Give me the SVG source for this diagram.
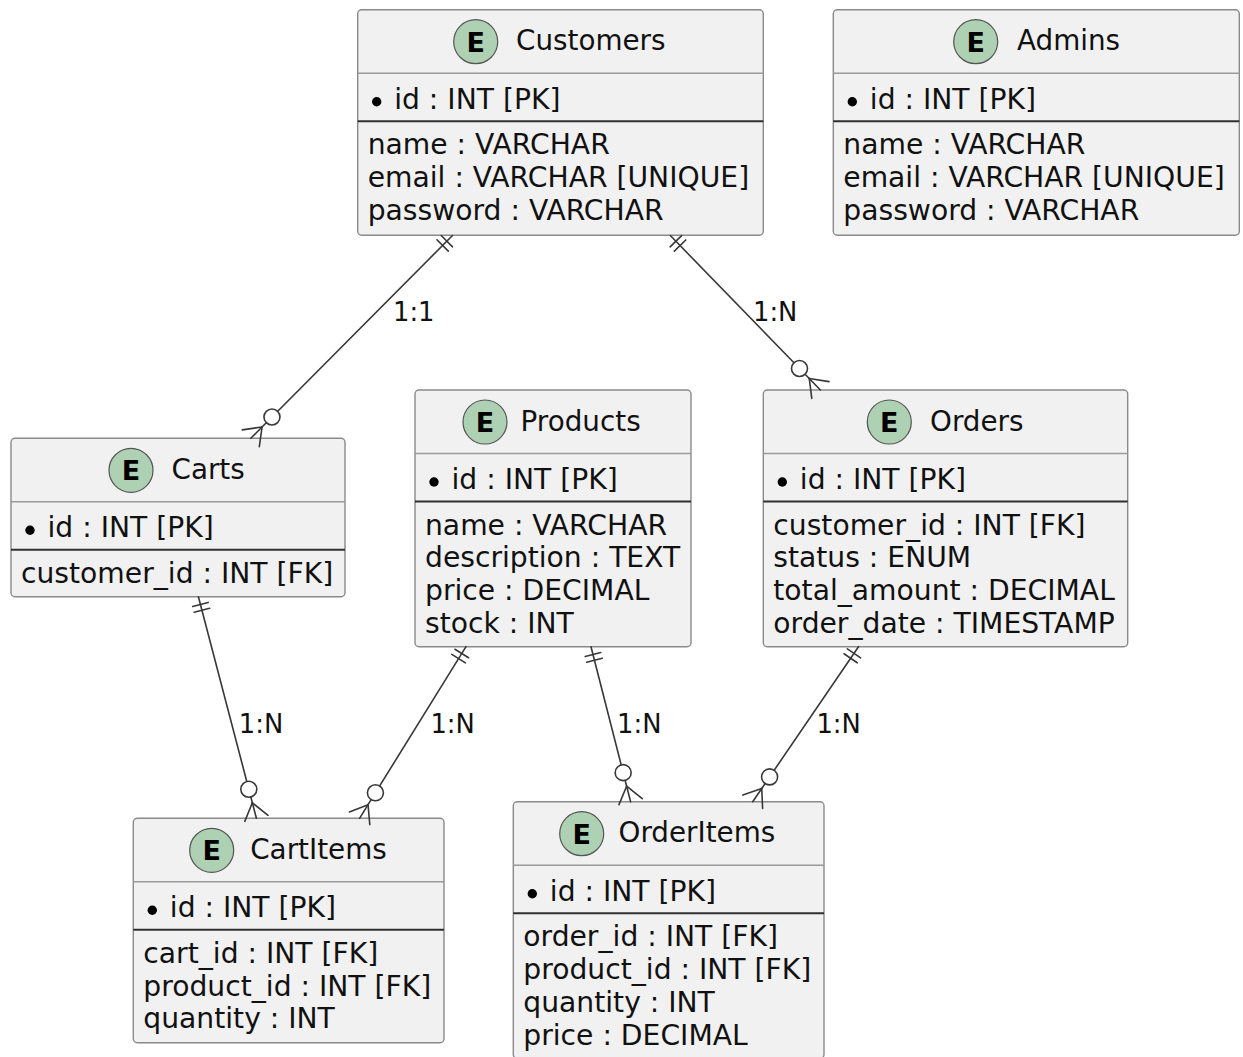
<svg xmlns="http://www.w3.org/2000/svg" width="1243" height="1057" viewBox="0 0 1243 1057">
  <style>
    .box { fill: #F1F1F1; stroke: #8a8a8a; stroke-width: 1.4; }
    .sep { stroke: #9a9a9a; stroke-width: 1.4; }
    .sep-strong { stroke: #303030; stroke-width: 2; }
    .badge { fill: #ADD1B2; stroke: #555; stroke-width: 1.2; }
    .badge-letter { font-family: "DejaVu Sans", sans-serif; font-weight: bold; font-size: 27px; text-anchor: middle; fill: #000; }
    .title { font-family: "DejaVu Sans", sans-serif; font-size: 27.8px; fill: #111; }
    .attr { font-family: "DejaVu Sans", sans-serif; font-size: 28.2px; fill: #111; }
    .pk-dot { fill: #000; }
    .link { stroke: #383838; stroke-width: 1.6; fill: none; stroke-linecap: round; }
    .opt { fill: #fff; stroke: #383838; stroke-width: 1.6; }
    .label { font-family: "DejaVu Sans", sans-serif; font-size: 25.8px; fill: #111; }
  </style>

  <rect width="1243" height="1057" fill="#ffffff"/>

  <!-- Entities -->
  <g id="customers">
    <rect class="box" x="357.7" y="9.7" width="405.6" height="225.6" rx="4"/>
    <circle class="badge" cx="475.7" cy="41.7" r="22"/>
    <text class="badge-letter" x="475.7" y="51.5">E</text>
    <text class="title" x="516" y="50.2">Customers</text>
    <line class="sep" x1="357.7" y1="73.2" x2="763.3" y2="73.2"/>
    <circle class="pk-dot" cx="376.7" cy="101.7" r="4.7"/>
    <text class="attr" x="394.2" y="108.5">id : INT [PK]</text>
    <line class="sep-strong" x1="357.7" y1="121.2" x2="763.3" y2="121.2"/>
    <text class="attr" x="367.7" y="154.2">name : VARCHAR</text>
    <text class="attr" x="367.7" y="187">email : VARCHAR [UNIQUE]</text>
    <text class="attr" x="367.7" y="219.8">password : VARCHAR</text>
  </g>

  <g id="admins">
    <rect class="box" x="833.3" y="9.7" width="406" height="225.6" rx="4"/>
    <circle class="badge" cx="975.7" cy="41.7" r="22"/>
    <text class="badge-letter" x="975.7" y="51.5">E</text>
    <text class="title" x="1017" y="50.2">Admins</text>
    <line class="sep" x1="833.3" y1="73.2" x2="1239.3" y2="73.2"/>
    <circle class="pk-dot" cx="852.3" cy="101.7" r="4.7"/>
    <text class="attr" x="869.8" y="108.5">id : INT [PK]</text>
    <line class="sep-strong" x1="833.3" y1="121.2" x2="1239.3" y2="121.2"/>
    <text class="attr" x="843.3" y="154.2">name : VARCHAR</text>
    <text class="attr" x="843.3" y="187">email : VARCHAR [UNIQUE]</text>
    <text class="attr" x="843.3" y="219.8">password : VARCHAR</text>
  </g>

  <g id="carts">
    <rect class="box" x="11" y="438.3" width="334" height="158.4" rx="4"/>
    <circle class="badge" cx="131" cy="470.3" r="22"/>
    <text class="badge-letter" x="131" y="480.1">E</text>
    <text class="title" x="171.5" y="478.8">Carts</text>
    <line class="sep" x1="11" y1="501.8" x2="345" y2="501.8"/>
    <circle class="pk-dot" cx="30" cy="530.3" r="4.7"/>
    <text class="attr" x="47.5" y="537.1">id : INT [PK]</text>
    <line class="sep-strong" x1="11" y1="549.8" x2="345" y2="549.8"/>
    <text class="attr" x="21" y="582.8">customer_id : INT [FK]</text>
  </g>

  <g id="products">
    <rect class="box" x="415" y="390" width="276" height="256.7" rx="4"/>
    <circle class="badge" cx="485" cy="422" r="22"/>
    <text class="badge-letter" x="485" y="431.8">E</text>
    <text class="title" x="520.6" y="430.5">Products</text>
    <line class="sep" x1="415" y1="453.5" x2="691" y2="453.5"/>
    <circle class="pk-dot" cx="434" cy="482" r="4.7"/>
    <text class="attr" x="451.5" y="488.8">id : INT [PK]</text>
    <line class="sep-strong" x1="415" y1="501.5" x2="691" y2="501.5"/>
    <text class="attr" x="425" y="534.5">name : VARCHAR</text>
    <text class="attr" x="425" y="567.3">description : TEXT</text>
    <text class="attr" x="425" y="600.1">price : DECIMAL</text>
    <text class="attr" x="425" y="632.9">stock : INT</text>
  </g>

  <g id="orders">
    <rect class="box" x="763.3" y="390" width="364.4" height="256.7" rx="4"/>
    <circle class="badge" cx="889.3" cy="422" r="22"/>
    <text class="badge-letter" x="889.3" y="431.8">E</text>
    <text class="title" x="930" y="430.5">Orders</text>
    <line class="sep" x1="763.3" y1="453.5" x2="1127.7" y2="453.5"/>
    <circle class="pk-dot" cx="782.3" cy="482" r="4.7"/>
    <text class="attr" x="799.8" y="488.8">id : INT [PK]</text>
    <line class="sep-strong" x1="763.3" y1="501.5" x2="1127.7" y2="501.5"/>
    <text class="attr" x="773.3" y="534.5">customer_id : INT [FK]</text>
    <text class="attr" x="773.3" y="567.3">status : ENUM</text>
    <text class="attr" x="773.3" y="600.1">total_amount : DECIMAL</text>
    <text class="attr" x="773.3" y="632.9">order_date : TIMESTAMP</text>
  </g>

  <g id="cartitems">
    <rect class="box" x="133.3" y="818.3" width="310.7" height="224.4" rx="4"/>
    <circle class="badge" cx="211.7" cy="850.3" r="22"/>
    <text class="badge-letter" x="211.7" y="860.1">E</text>
    <text class="title" x="250.2" y="858.8">CartItems</text>
    <line class="sep" x1="133.3" y1="881.8" x2="444" y2="881.8"/>
    <circle class="pk-dot" cx="152.3" cy="910.3" r="4.7"/>
    <text class="attr" x="169.8" y="917.1">id : INT [PK]</text>
    <line class="sep-strong" x1="133.3" y1="929.8" x2="444" y2="929.8"/>
    <text class="attr" x="143.3" y="962.8">cart_id : INT [FK]</text>
    <text class="attr" x="143.3" y="995.6">product_id : INT [FK]</text>
    <text class="attr" x="143.3" y="1028.4">quantity : INT</text>
  </g>

  <g id="orderitems">
    <rect class="box" x="513.3" y="801.7" width="310.7" height="256.7" rx="4"/>
    <circle class="badge" cx="581.7" cy="833.7" r="22"/>
    <text class="badge-letter" x="581.7" y="843.5">E</text>
    <text class="title" x="618.5" y="842.2">OrderItems</text>
    <line class="sep" x1="513.3" y1="865.2" x2="824" y2="865.2"/>
    <circle class="pk-dot" cx="532.3" cy="893.7" r="4.7"/>
    <text class="attr" x="549.8" y="900.5">id : INT [PK]</text>
    <line class="sep-strong" x1="513.3" y1="913.2" x2="824" y2="913.2"/>
    <text class="attr" x="523.3" y="946.2">order_id : INT [FK]</text>
    <text class="attr" x="523.3" y="979">product_id : INT [FK]</text>
    <text class="attr" x="523.3" y="1011.8">quantity : INT</text>
    <text class="attr" x="523.3" y="1044.6">price : DECIMAL</text>
  </g>

  <!-- Relationships: "||" at the one side, circle + crow's foot at the many side -->
  <g id="connectors">
    <!-- Customers -> Carts -->
    <g id="customers-carts">
      <line class="link" x1="452.5" y1="235.5" x2="262.08" y2="426.95"/>
      <line class="link" x1="441.19" y1="235.53" x2="452.53" y2="246.81"/>
      <line class="link" x1="436.96" y1="239.79" x2="448.3" y2="251.07"/>
      <line class="link" x1="262.08" y1="426.95" x2="250.8" y2="438.3"/>
      <line class="link" x1="262.08" y1="426.95" x2="242.29" y2="429.84"/>
      <line class="link" x1="262.08" y1="426.95" x2="259.31" y2="446.76"/>
      <circle class="opt" cx="271.96" cy="417.03" r="8"/>
      <text class="label" x="393" y="321">1:1</text>
    </g>
    <!-- Customers -> Orders -->
    <g id="customers-orders">
      <line class="link" x1="670.3" y1="235.5" x2="809.25" y2="378.52"/>
      <line class="link" x1="670.13" y1="246.81" x2="681.61" y2="235.67"/>
      <line class="link" x1="674.31" y1="251.11" x2="685.79" y2="239.97"/>
      <line class="link" x1="809.25" y1="378.52" x2="820.4" y2="390"/>
      <line class="link" x1="809.25" y1="378.52" x2="811.79" y2="398.36"/>
      <line class="link" x1="809.25" y1="378.52" x2="829.01" y2="381.64"/>
      <circle class="opt" cx="799.5" cy="368.48" r="8"/>
      <text class="label" x="753" y="321">1:N</text>
    </g>
    <!-- Carts -> CartItems -->
    <g id="carts-cartitems">
      <line class="link" x1="198.4" y1="596.7" x2="252.35" y2="802.82"/>
      <line class="link" x1="192.69" y1="606.47" x2="208.17" y2="602.41"/>
      <line class="link" x1="194.2" y1="612.27" x2="209.68" y2="608.21"/>
      <line class="link" x1="252.35" y1="802.82" x2="256.4" y2="818.3"/>
      <line class="link" x1="252.35" y1="802.82" x2="244.79" y2="821.34"/>
      <line class="link" x1="252.35" y1="802.82" x2="268.01" y2="815.26"/>
      <circle class="opt" cx="248.8" cy="789.28" r="8"/>
      <text class="label" x="238.8" y="733">1:N</text>
    </g>
    <!-- Products -> CartItems -->
    <g id="products-cartitems">
      <line class="link" x1="466" y1="646.7" x2="368.03" y2="804.7"/>
      <line class="link" x1="454.98" y1="649.28" x2="468.58" y2="657.72"/>
      <line class="link" x1="451.82" y1="654.38" x2="465.42" y2="662.82"/>
      <line class="link" x1="368.03" y1="804.7" x2="359.6" y2="818.3"/>
      <line class="link" x1="368.03" y1="804.7" x2="349.4" y2="811.98"/>
      <line class="link" x1="368.03" y1="804.7" x2="369.8" y2="824.62"/>
      <circle class="opt" cx="375.41" cy="792.8" r="8"/>
      <text class="label" x="430.4" y="733">1:N</text>
    </g>
    <!-- Products -> OrderItems -->
    <g id="products-orderitems">
      <line class="link" x1="591" y1="646.7" x2="626.64" y2="786.2"/>
      <line class="link" x1="585.23" y1="656.43" x2="600.73" y2="652.47"/>
      <line class="link" x1="586.72" y1="662.24" x2="602.22" y2="658.28"/>
      <line class="link" x1="626.64" y1="786.2" x2="630.6" y2="801.7"/>
      <line class="link" x1="626.64" y1="786.2" x2="618.97" y2="804.67"/>
      <line class="link" x1="626.64" y1="786.2" x2="642.23" y2="798.73"/>
      <circle class="opt" cx="623.17" cy="772.63" r="8"/>
      <text class="label" x="617.1" y="733">1:N</text>
    </g>
    <!-- Orders -> OrderItems -->
    <g id="orders-orderitems">
      <line class="link" x1="858.5" y1="646.7" x2="761.72" y2="788.49"/>
      <line class="link" x1="847.38" y1="648.8" x2="860.6" y2="657.82"/>
      <line class="link" x1="844" y1="653.75" x2="857.22" y2="662.77"/>
      <line class="link" x1="761.72" y1="788.49" x2="752.7" y2="801.7"/>
      <line class="link" x1="761.72" y1="788.49" x2="742.79" y2="794.93"/>
      <line class="link" x1="761.72" y1="788.49" x2="762.61" y2="808.47"/>
      <circle class="opt" cx="769.61" cy="776.92" r="8"/>
      <text class="label" x="816.4" y="733">1:N</text>
    </g>
  </g>
</svg>
